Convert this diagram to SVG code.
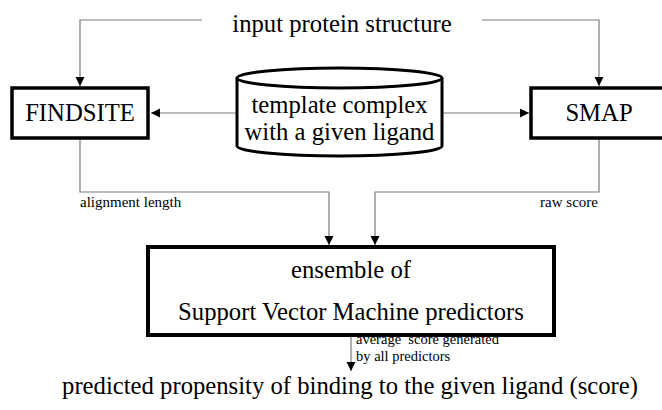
<svg xmlns="http://www.w3.org/2000/svg" width="662" height="410" viewBox="0 0 662 410">
<style>
text { font-family: "Liberation Serif", "Times New Roman", serif; fill: #000; }
.big { font-size: 24.7px; }
.small { font-size: 15px; }
.note { font-size: 14.5px; }
.box { fill: #fff; stroke: #000; stroke-width: 3.5; }
.cyl { fill: #fff; stroke: #000; stroke-width: 3; }
.conn { fill: none; stroke: #7a7a7a; stroke-width: 1.2; }
</style>
<defs>
<marker id="ah" markerUnits="userSpaceOnUse" markerWidth="10" markerHeight="10" refX="9" refY="4.5" orient="auto">
<path d="M0,0 L9,4.5 L0,9 z" fill="#000"/>
</marker>
</defs>
<text class="big" x="342" y="32" text-anchor="middle">input protein structure</text>
<g id="connectors">
<path class="conn" d="M202,20 H80 V86" marker-end="url(#ah)"/>
<path class="conn" d="M482,20 H599 V86" marker-end="url(#ah)"/>
<path class="conn" d="M237,113 H151" marker-end="url(#ah)"/>
<path class="conn" d="M442,113 H529" marker-end="url(#ah)"/>
<path class="conn" d="M80,139 V192 H329 V245" marker-end="url(#ah)"/>
<path class="conn" d="M599,139 V192 H375 V245" marker-end="url(#ah)"/>
<path class="conn" d="M351,336 V371" marker-end="url(#ah)"/>
<text class="small" x="80" y="207">alignment length</text>
<text class="small" x="598" y="207" text-anchor="end">raw score</text>
<text class="note" x="356" y="344" xml:space="preserve">average  score generated</text>
<text class="note" x="356" y="361">by all predictors</text>
</g>
<g id="findsite">
<rect class="box" x="12" y="88" width="136" height="50"/>
<text class="big" x="80" y="121" text-anchor="middle">FINDSITE</text>
</g>
<g id="template">
<path class="cyl" d="M237,78 L237,146 A102.5,10 0 0 0 442,146 L442,78"/>
<ellipse class="cyl" cx="339.5" cy="78" rx="102.5" ry="10"/>
<text class="big" x="339.5" y="113" text-anchor="middle">template complex</text>
<text class="big" x="339.5" y="140" text-anchor="middle">with a given ligand</text>
</g>
<g id="smap">
<rect class="box" x="531" y="88" width="136" height="50"/>
<text class="big" x="599" y="121" text-anchor="middle">SMAP</text>
</g>
<g id="ensemble">
<rect x="148" y="247" width="406" height="88" fill="#fff" stroke="#000" stroke-width="4"/>
<text class="big" x="351" y="278" text-anchor="middle">ensemble of</text>
<text class="big" x="351" y="320" text-anchor="middle">Support Vector Machine predictors</text>
</g>
<text class="big" x="350" y="394" text-anchor="middle">predicted propensity of binding to the given ligand (score)</text>
</svg>
